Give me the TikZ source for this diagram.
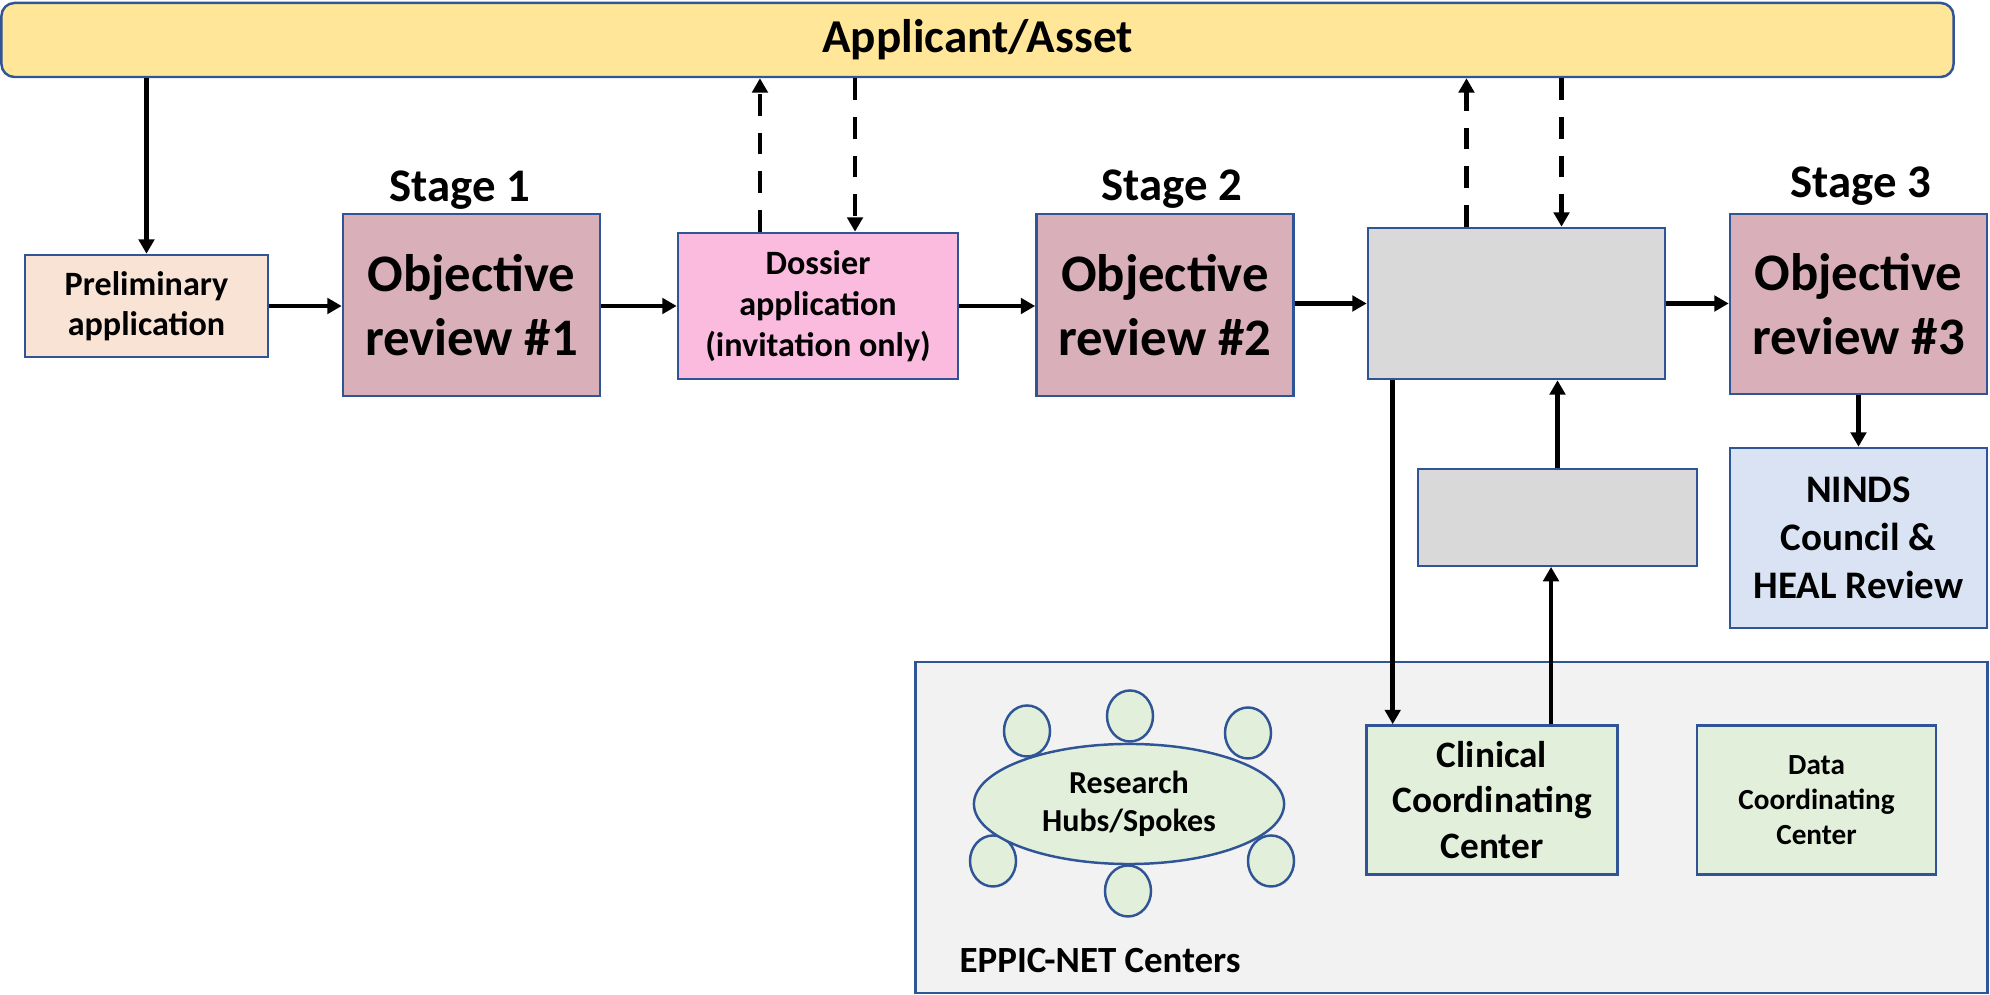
\documentclass[tikz,border=0pt]{standalone}
\usepackage{xcolor}
\usepackage{tikz}
\usepackage{fontspec}
\setmainfont{Carlito}
\usetikzlibrary{arrows.meta,shapes.geometric}

\definecolor{edgeblue}{HTML}{2F5597}
\definecolor{assetfill}{HTML}{FFE699}
\definecolor{prelimfill}{HTML}{F8E3D5}
\definecolor{reviewfill}{HTML}{D9AFB9}
\definecolor{dossierfill}{HTML}{FABBDF}
\definecolor{greyfill}{HTML}{D9D9D9}
\definecolor{nindsfill}{HTML}{DAE3F3}
\definecolor{netfill}{HTML}{F2F2F2}
\definecolor{centerfill}{HTML}{E2EFDA}

\begin{document}
\begin{tikzpicture}[x=0.01cm, y=-0.01cm,
    box/.style={draw=edgeblue, line width=0.7pt, align=center, inner sep=0pt, font=\bfseries},
    review/.style={box, fill=reviewfill, minimum width=2.57cm, minimum height=1.82cm,
        font=\bfseries\fontsize{15}{18.2}\selectfont},
    stagelbl/.style={anchor=base, font=\bfseries\fontsize{13.3}{16}\selectfont},
    hub/.style={ellipse, draw=edgeblue, line width=0.7pt, fill=centerfill, inner sep=0pt},
    arr/.style={line width=1.3pt, -{Triangle[length=4.1pt,width=4.4pt]}},
    dasharr/.style={arr, dash pattern=on 6.2pt off 4.8pt}]
    \useasboundingbox (0,0) rectangle (1990,995);

    \node[box, fill=assetfill, rounded corners=0.13cm, minimum width=19.51cm, minimum height=0.74cm,
        font=\bfseries\fontsize{13.4}{16}\selectfont] (asset) at (977.5,40) {Applicant/Asset};

    \node[box, fill=prelimfill, minimum width=2.43cm, minimum height=1.02cm,
        font=\bfseries\fontsize{9.7}{11.4}\selectfont] (prelim) at (146.5,306) {Preliminary\\application};
    \node[review] (rev1) at (471.5,305) {Objective\\review \#1};
    \node[box, fill=dossierfill, minimum width=2.80cm, minimum height=1.46cm,
        font=\bfseries\fontsize{9.7}{11.7}\selectfont] (dossier) at (818,306) {Dossier\\application\\(invitation only)};
    \node[review] (rev2) at (1165,305) {Objective\\review \#2};
    \node[box, fill=greyfill, minimum width=2.97cm, minimum height=1.51cm] (grey) at (1516.5,303.5) {};
    \node[review, minimum height=1.80cm] (rev3) at (1858.5,304) {Objective\\review \#3};
    \node[box, fill=nindsfill, minimum width=2.57cm, minimum height=1.80cm,
        font=\bfseries\fontsize{11.1}{13.6}\selectfont] (ninds) at (1858.5,538) {NINDS\\Council \&\\HEAL Review};
    \node[box, fill=greyfill, line width=0.5pt, minimum width=2.79cm, minimum height=0.97cm] (subgrey) at (1557.5,517.5) {};

    \node[stagelbl] (stage1) at (460,202) {Stage 1};
    \node[stagelbl] (stage2) at (1172,201) {Stage 2};
    \node[stagelbl] (stage3) at (1861,198) {Stage 3};

    \node[box, fill=netfill, minimum width=10.71cm, minimum height=3.31cm] (net) at (1451.5,827.5) {};
    \node[anchor=base west, inner sep=0pt, font=\bfseries\fontsize{10.5}{12.6}\selectfont] (netlbl) at (959,973) {EPPIC-NET Centers};
    \foreach \cx/\cy [count=\i] in {1027/731, 1130/716, 1248/733, 993/861, 1271/861, 1128/891}
        \node[hub, minimum width=0.46cm, minimum height=0.51cm] (spoke\i) at (\cx,\cy) {};
    \node[hub, minimum width=3.10cm, minimum height=1.20cm, align=center,
        font=\bfseries\fontsize{9.1}{10.9}\selectfont] (hubs) at (1129,804) {Research\\Hubs/Spokes};
    \node[box, fill=centerfill, minimum width=2.51cm, minimum height=1.49cm,
        font=\bfseries\fontsize{10.6}{13}\selectfont] (ccc) at (1492,800) {Clinical\\Coordinating\\Center};
    \node[box, fill=centerfill, minimum width=2.39cm, minimum height=1.49cm,
        font=\bfseries\fontsize{8.3}{10}\selectfont] (dcc) at (1816.5,800) {Data\\Coordinating\\Center};

    \draw[arr] (asset.south -| prelim) -- (prelim.north);
    \draw[arr] (prelim.east) -- (prelim.east -| rev1.west);
    \draw[arr] (rev1.east |- dossier) -- (dossier.west);
    \draw[arr] (dossier.east) -- (dossier.east -| rev2.west);
    \draw[arr] (rev2.east |- grey) -- (grey.west);
    \draw[arr] (grey.east) -- (grey.east -| rev3.west);
    \draw[arr] (rev3.south) -- (ninds.north);

    \coordinate (dosup) at ([xshift=-0.58cm]dossier.north);
    \coordinate (dosdown) at ([xshift=0.37cm]dossier.north);
    \coordinate (greyup) at ([xshift=-0.50cm]grey.north);
    \coordinate (greydown) at ([xshift=0.45cm]grey.north);
    \draw[dasharr] (dosup) -- (dosup |- asset.south);
    \draw[dasharr] (dosdown |- asset.south) -- (dosdown);
    \draw[dasharr] (greyup) -- (greyup |- asset.south);
    \draw[dasharr] (greydown |- asset.south) -- (greydown);

    \coordinate (greyout) at ([xshift=0.26cm]grey.south west);
    \coordinate (cccout) at ([xshift=0.59cm]ccc.north);
    \draw[arr] (greyout) -- (greyout |- ccc.north);
    \draw[arr] (cccout) -- (cccout |- subgrey.south);
    \draw[arr] (subgrey.north) -- (subgrey.north |- grey.south);
  \end{tikzpicture}
\end{document}
